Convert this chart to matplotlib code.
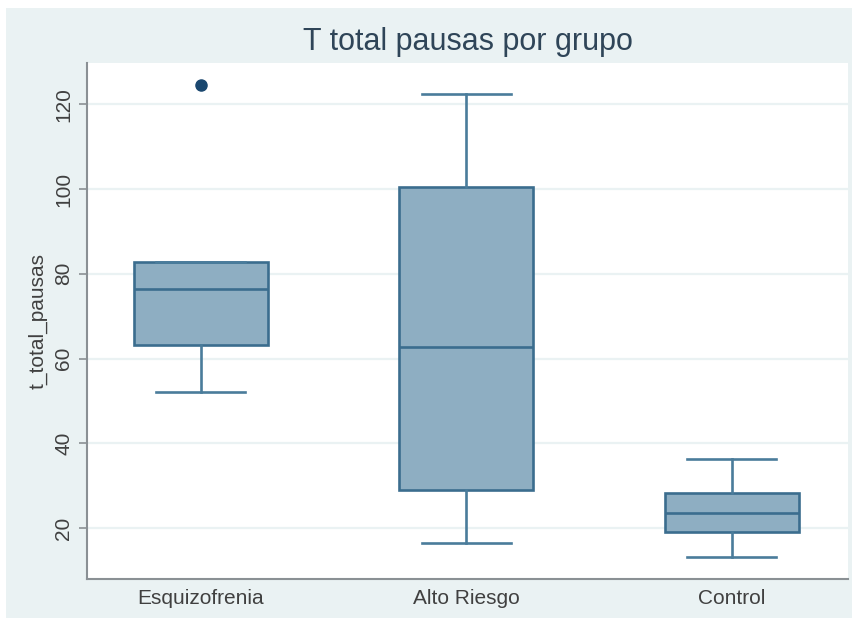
import matplotlib
matplotlib.use("Agg")
import matplotlib.pyplot as plt
from matplotlib.patches import Rectangle

plt.rcParams['font.family'] = ['Liberation Sans', 'DejaVu Sans']

# Group summaries of t_total_pausas
groups = ["Esquizofrenia", "Alto Riesgo", "Control"]
q1 = [63.2, 29.0, 19.2]
medians = [76.5, 62.8, 23.7]
q3 = [82.8, 100.5, 28.4]
whisker_low = [52.1, 16.5, 13.3]
whisker_high = [82.8, 122.3, 36.3]
outliers = [[124.4], [], []]
yticks = [20, 40, 60, 80, 100, 120]

W, H = 852, 621
fig = plt.figure(figsize=(W / 100, H / 100), dpi=100, facecolor="white")

bg = "#eaf2f3"
fig.patches.append(Rectangle((6 / W, 1 - 618 / H), 846 / W, 610 / H,
                             transform=fig.transFigure, facecolor=bg,
                             edgecolor="none", zorder=-10))

left, right, top, bottom = 87, 848, 63, 579
ax = fig.add_axes([left / W, 1 - bottom / H, (right - left) / W, (bottom - top) / H])
ax.set_facecolor("white")

stats = []
for i, g in enumerate(groups):
    stats.append(dict(label=g, q1=q1[i], med=medians[i], q3=q3[i],
                      whislo=whisker_low[i], whishi=whisker_high[i],
                      fliers=outliers[i]))

edge = "#3b6d8e"
ax.bxp(stats, positions=[1, 2, 3], widths=0.505, capwidths=0.335,
       patch_artist=True, showfliers=True,
       boxprops=dict(facecolor="#8eaec2", edgecolor=edge, linewidth=1.9),
       medianprops=dict(color=edge, linewidth=1.9),
       whiskerprops=dict(color="#4a7c9b", linewidth=1.9),
       capprops=dict(color="#4a7c9b", linewidth=1.9),
       flierprops=dict(marker="o", markerfacecolor="#1a476f",
                       markeredgecolor="#1a476f", markersize=8))

ax.set_xlim(0.571, 3.437)
ax.set_ylim(8.05, 129.7)
ax.set_yticks(yticks)
ax.yaxis.grid(True, color=bg, linewidth=1.6)
ax.set_axisbelow(True)

for s in ["top", "right"]:
    ax.spines[s].set_visible(False)
for s in ["left", "bottom"]:
    ax.spines[s].set_color("#8a9094")
    ax.spines[s].set_linewidth(1.5)

ax.tick_params(axis="x", length=0, pad=7, labelsize=15, labelcolor="#404040")
ax.tick_params(axis="y", length=6, width=1.2, color="#8a9094", pad=4,
               labelsize=15, labelcolor="#404040", labelrotation=90)
for lbl in ax.get_yticklabels():
    lbl.set_va("center")

fig.text(38 / W, 1 - 321 / H, "t_total_pausas", rotation=90, ha="center",
         va="center", fontsize=15, color="#404040")
fig.text(467.5 / W, 1 - 50 / H, "T total pausas por grupo", ha="center",
         va="baseline", fontsize=22, color="#2f4558")

fig.savefig("out.png", dpi=100, facecolor=fig.get_facecolor())
